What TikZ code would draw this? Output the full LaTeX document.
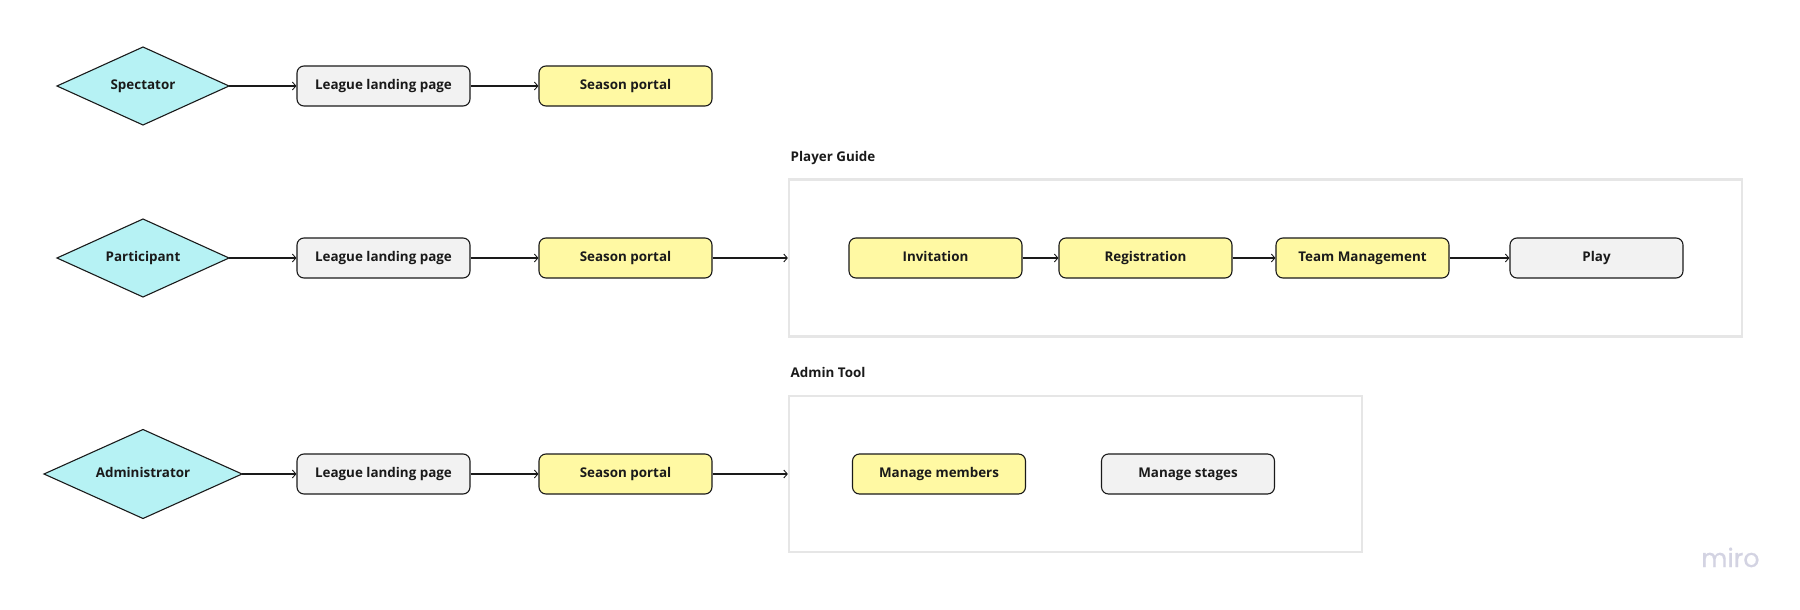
\documentclass[tikz,border=0pt]{standalone}
\usepackage{fontspec}
\setmainfont{Open Sans}
\newfontfamily\mirofont[FakeBold=0.6]{Poppins}
\usetikzlibrary{shapes.geometric,arrows.meta}
\definecolor{cyanfill}{HTML}{B6F2F4}
\definecolor{yellowfill}{HTML}{FFF9A3}
\definecolor{greyfill}{HTML}{F2F2F2}
\definecolor{inkline}{HTML}{1A1A1A}
\definecolor{framecol}{HTML}{E6E6E6}
\definecolor{mirocol}{HTML}{D3D3E2}
\tikzset{
  x=1pt,y=-1pt,
  every node/.style={font=\fontsize{13.4pt}{16pt}\selectfont\bfseries,text=inkline,text height=10.5pt,text depth=3.9pt},
  actor/.style={diamond,shape aspect=2.19,draw=inkline,line width=1.1pt,fill=cyanfill,inner sep=0pt,outer sep=0pt,minimum width=172pt,minimum height=78pt},
  bigactor/.style={actor,shape aspect=2.22,minimum width=198pt,minimum height=89pt},
  boxbase/.style={rectangle,rounded corners=7pt,draw=inkline,line width=1.1pt,minimum width=173pt,minimum height=40pt,inner sep=0pt},
  ybox/.style={boxbase,fill=yellowfill},
  gbox/.style={boxbase,fill=greyfill},
  frm/.style={rectangle,draw=framecol,line width=2.3pt,fill=white,inner sep=0pt},
  lbl/.style={anchor=west,inner sep=0pt},
  conn/.style={draw=inkline,line width=1.1pt,-{Straight Barb[length=3.5pt,width=8pt,line width=0.9pt]}}
}
\begin{document}
\begin{tikzpicture}
\useasboundingbox (0,0) rectangle (1800,610);
% frames
\node[frm,minimum width=953pt,minimum height=157pt] (fp) at (1265.5,258) {};
\node[frm,minimum width=573pt,minimum height=156pt] (fa) at (1075.5,474) {};
\node[lbl] (lp) at (790.5,158.5) {Player Guide};
\node[lbl] (la) at (790.5,374.5) {Admin Tool};
% row 1
\node[actor] (d1) at (143,86) {Spectator};
\node[gbox] (l1) at (383.5,86) {League landing page};
\node[ybox] (s1) at (625.5,86) {Season portal};
% row 2
\node[actor] (d2) at (143,258) {Participant};
\node[gbox] (l2) at (383.5,258) {League landing page};
\node[ybox] (s2) at (625.5,258) {Season portal};
\node[ybox] (inv) at (935.5,258) {Invitation};
\node[ybox] (reg) at (1145.5,258) {Registration};
\node[ybox] (team) at (1362.5,258) {Team Management};
\node[gbox] (play) at (1596.5,258) {Play};
% row 3
\node[bigactor] (d3) at (143,474) {Administrator};
\node[gbox] (l3) at (383.5,474) {League landing page};
\node[ybox] (s3) at (625.5,474) {Season portal};
\node[ybox] (mm) at (939,474) {Manage members};
\node[gbox] (ms) at (1188,474) {Manage stages};
% connectors
\draw[conn] (d1.east) -- (l1.west);
\draw[conn] (l1.east) -- (s1.west);
\draw[conn] (d2.east) -- (l2.west);
\draw[conn] (l2.east) -- (s2.west);
\draw[conn] (s2.east) -- (s2.east -| fp.west);
\draw[conn] (inv.east) -- (reg.west);
\draw[conn] (reg.east) -- (team.west);
\draw[conn] (team.east) -- (play.west);
\draw[conn] (d3.east) -- (l3.west);
\draw[conn] (l3.east) -- (s3.west);
\draw[conn] (s3.east) -- (fa.west);
% watermark
\node[anchor=base west,inner sep=0pt,text=mirocol,font=\mirofont\fontsize{25.5pt}{28pt}\selectfont] (wm) at (1701,567) {miro};
\end{tikzpicture}
\end{document}
